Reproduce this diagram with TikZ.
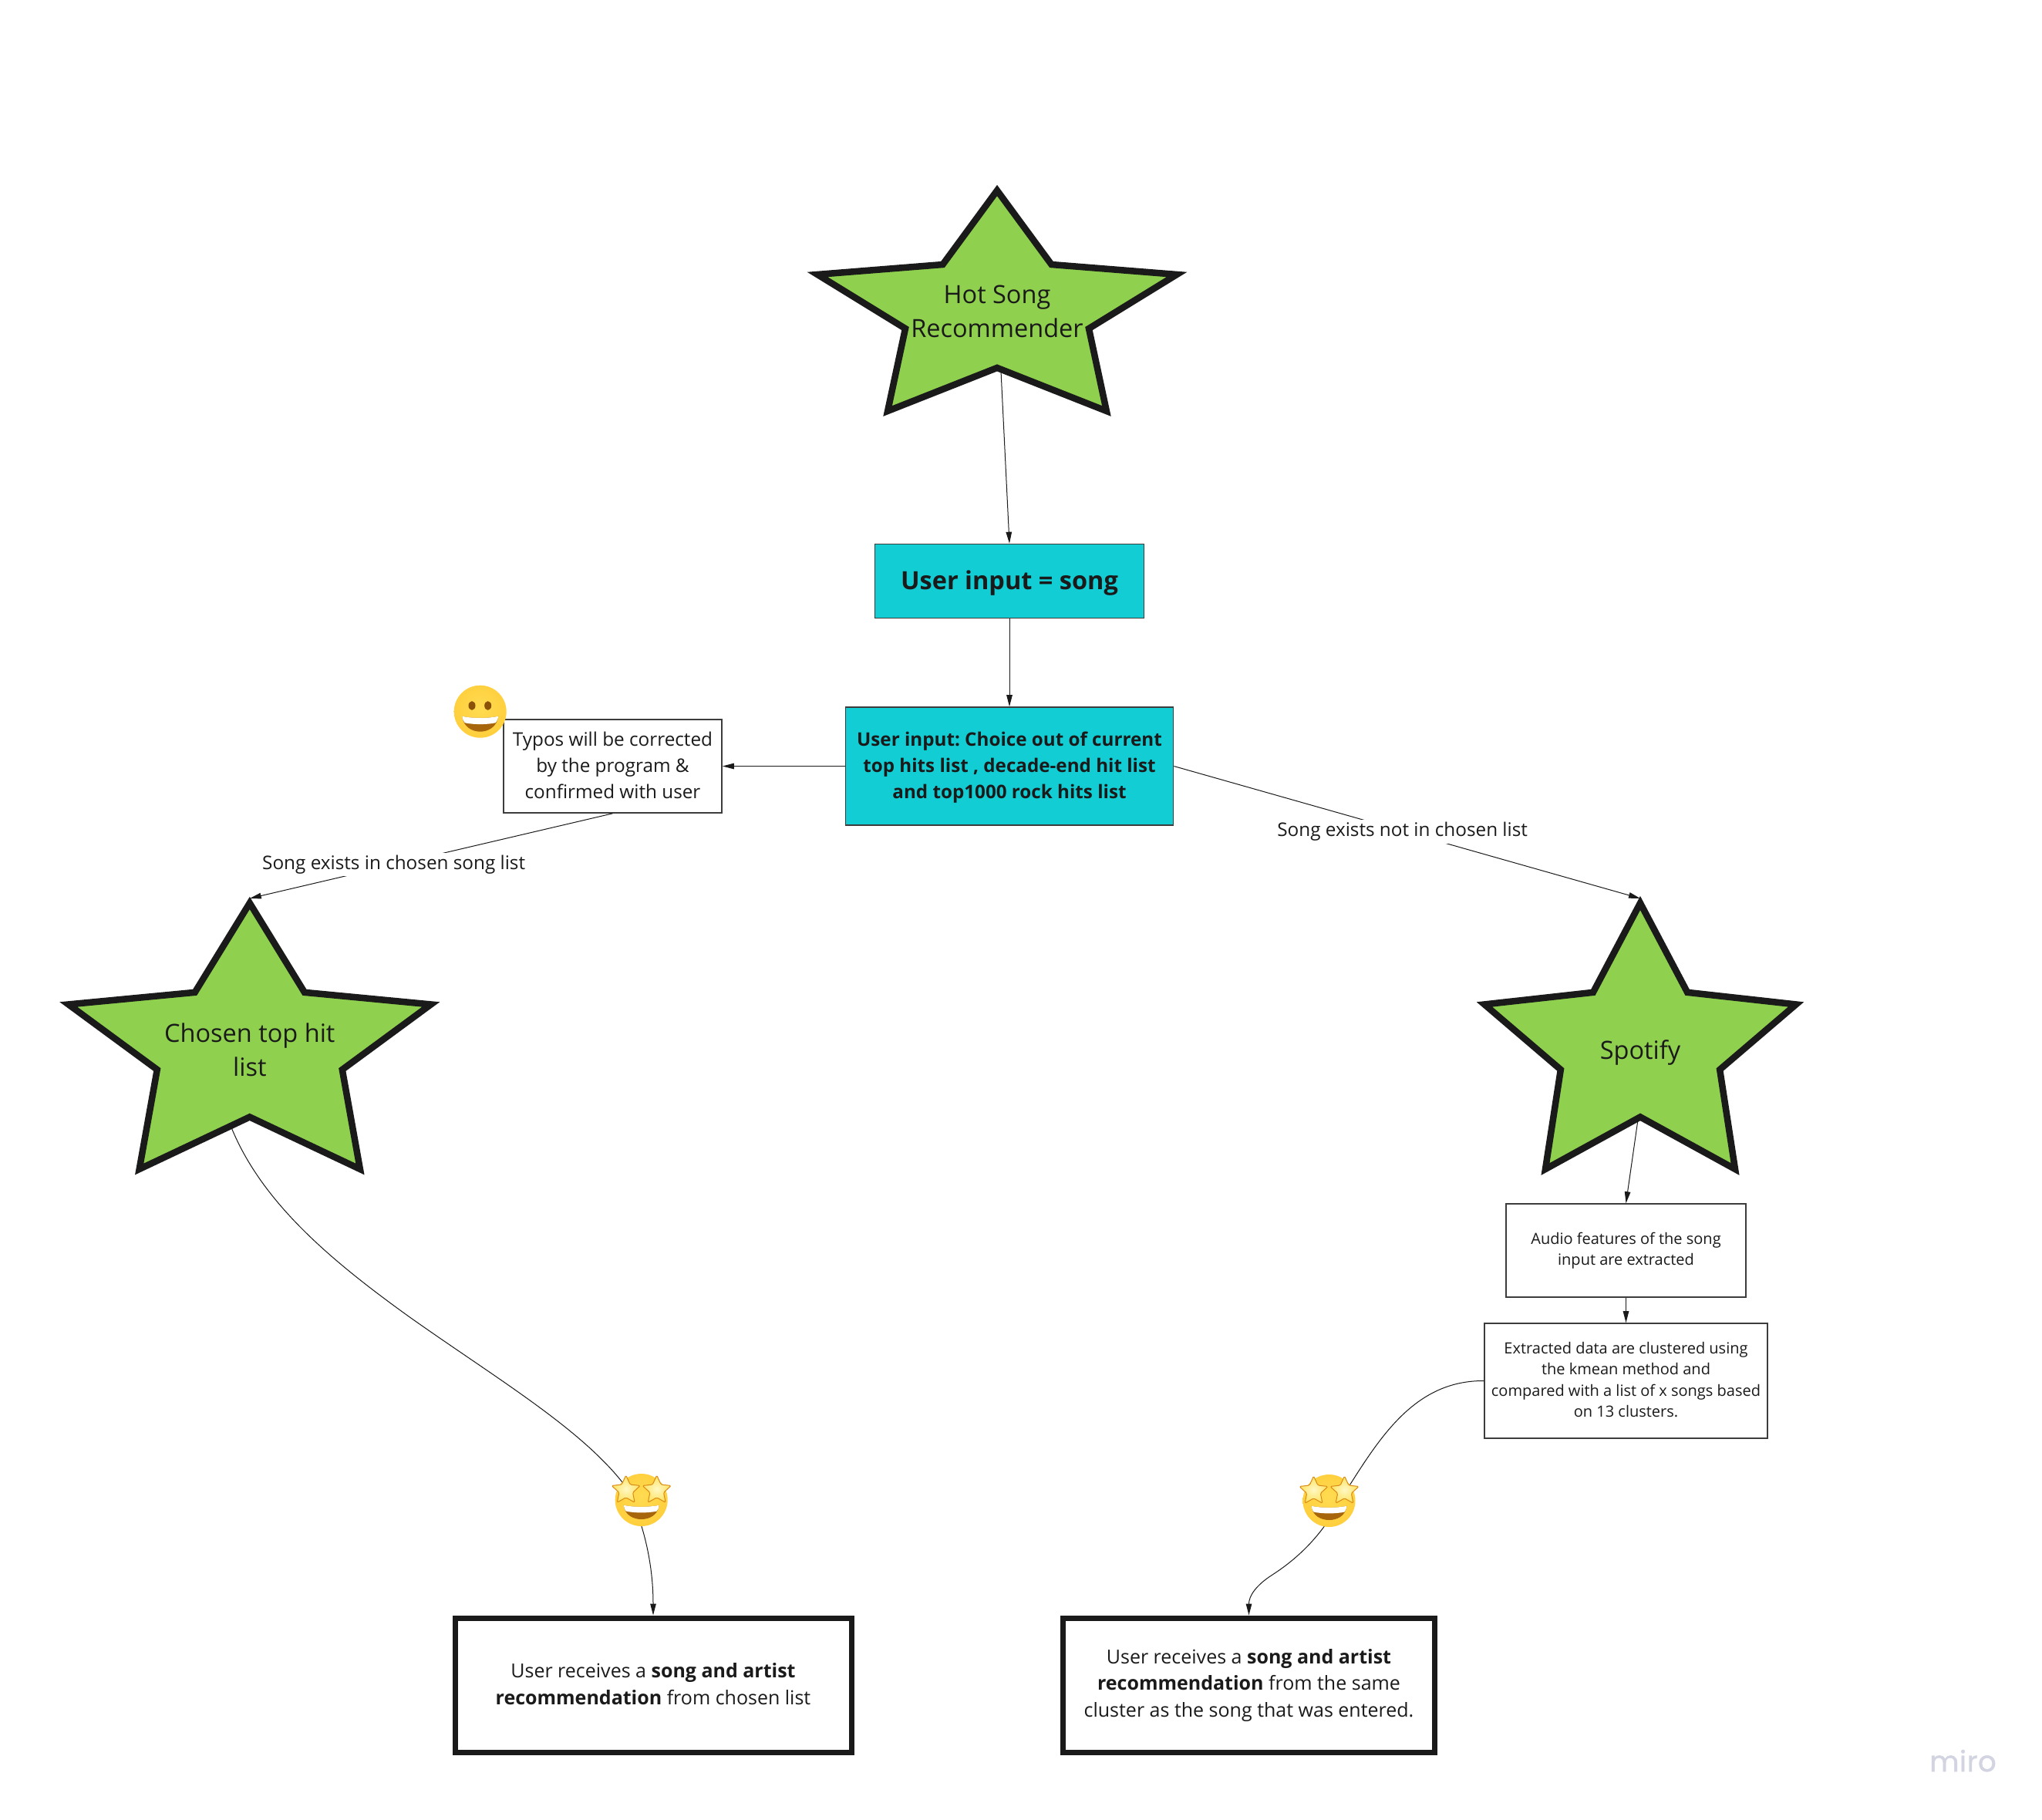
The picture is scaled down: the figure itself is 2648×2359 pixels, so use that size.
\documentclass[tikz,border=0pt]{standalone}
\usepackage{fontspec}
\setmainfont{Open Sans}
\newfontfamily\mirofont[FakeBold=1.2,LetterSpace=1.5]{Poppins}
\usetikzlibrary{arrows.meta,shapes.geometric}
\definecolor{ink}{HTML}{1A1A1A}
\definecolor{stargreen}{HTML}{8FD14F}
\definecolor{teal}{HTML}{12CDD4}
\definecolor{miroc}{HTML}{D3D4E2}
\definecolor{mouthc}{HTML}{A8660C}
\definecolor{eyec}{HTML}{8A5208}
\definecolor{starin}{HTML}{FFF8C4}
\definecolor{starout}{HTML}{FFE25E}
\definecolor{starrim}{HTML}{D98A14}
\pgfdeclareradialshading{facefill}{\pgfpoint{0bp}{4bp}}{
  rgb(0bp)=(1,0.86,0.32);
  rgb(32bp)=(1,0.80,0.22);
  rgb(46bp)=(0.97,0.67,0.14);
  rgb(50bp)=(0.93,0.58,0.10)}
\tikzset{
  x=1pt,y=-1pt,
  hitstar/.style={draw=ink,fill=stargreen,line width=8.5pt,miter limit=10,line join=miter},
  startext/.style={inner sep=0pt,align=center,text=ink,font=\fontsize{32.5}{44}\selectfont},
  boxbase/.style={rectangle,inner sep=0pt,align=center,text=ink,draw=ink!85},
  inputbox/.style={boxbase,fill=teal,line width=1.6pt},
  notebox/.style={boxbase,fill=white,line width=1.6pt,font=\fontsize{24.3}{34}\selectfont},
  smallbox/.style={boxbase,fill=white,line width=1.6pt,font=\fontsize{20}{27.3}\selectfont},
  resultbox/.style={boxbase,fill=white,line width=7pt,draw=ink,font=\fontsize{25}{34.5}\selectfont},
  edgelabel/.style={fill=white,inner sep=3pt,text=ink,font=\fontsize{24.3}{30}\selectfont},
  conn/.style={draw=ink,line width=1pt,-{Triangle[length=15pt,width=7.5pt]}},
  eyestar/.style={star,star points=5,star point ratio=2.1,minimum size=39pt,inner sep=0pt,rounded corners=1.5pt,draw=starrim,line width=1pt,inner color=starin,outer color=starout},
  grin/.pic={
    \shade[shading=facefill] (0,0) circle[radius=34];
    \fill[eyec] (-10.7,-7.7) ellipse[x radius=4.5,y radius=5.8];
    \fill[eyec] (10,-7.7) ellipse[x radius=4.5,y radius=5.8];
    \path[fill=mouthc] (-23.5,6) .. controls (-12,9) and (12,9) .. (23.5,6) .. controls (22,20) and (10,26) .. (0,26) .. controls (-10,26) and (-22,20) .. (-23.5,6) -- cycle;
    \path[fill=white] (-23.5,6) .. controls (-12,9) and (12,9) .. (23.5,6) .. controls (23,10) and (21.5,13) .. (20,14.5) .. controls (10,17) and (-10,17) .. (-20,14.5) .. controls (-21.5,13) and (-23,10) .. (-23.5,6) -- cycle;
  },
  struck/.pic={
    \shade[shading=facefill] (0,0) circle[radius=34];
    \path[fill=mouthc] (-23,6.7) .. controls (-12,9.5) and (12,9.5) .. (23,6.7) .. controls (21.5,20) and (10,25) .. (0,25) .. controls (-10,25) and (-21.5,20) .. (-23,6.7) -- cycle;
    \path[fill=white] (-23,6.7) .. controls (-12,9.5) and (12,9.5) .. (23,6.7) .. controls (22.6,10) and (21.5,13) .. (20,14.5) .. controls (10,17) and (-10,17) .. (-20,14.5) .. controls (-21.5,13) and (-22.6,10) .. (-23,6.7) -- cycle;
    \node[eyestar] at (-20,-12.5) {};
    \node[eyestar] at (20,-12.5) {};
  }
}
% struts that nudge a text block up or down inside its box
\newcommand{\deepstrut}[1]{\rule[-#1]{0pt}{0pt}}
\newcommand{\tallstrut}[1]{\rule{0pt}{#1}}
% #1 name, #2 centre x, #3 top y, #4 half width, #5 height, #6 text y, #7 text
\newcommand{\hotstar}[7]{%
  \draw[hitstar]
    ({#2},{#3})
    -- ({#2+0.3026*#4},{#3+0.3357*#5})
    -- ({#2+#4},{#3+0.381*#5})
    -- ({#2+0.5107*#4},{#3+0.626*#5})
    -- ({#2+0.609*#4},{#3+#5})
    -- ({#2},{#3+0.804*#5})
    -- ({#2-0.609*#4},{#3+#5})
    -- ({#2-0.5107*#4},{#3+0.626*#5})
    -- ({#2-#4},{#3+0.381*#5})
    -- ({#2-0.3026*#4},{#3+0.3357*#5})
    -- cycle;
  \node[startext] (#1) at (#2,#6) {#7};
  \coordinate (#1-top) at (#2,{#3-6});
}
\begin{document}
\frenchspacing
\begin{tikzpicture}
\useasboundingbox (0,0) rectangle (2648,2359);
\fill[white] (0,0) rectangle (2648,2359);

% stars
\hotstar{hot}{1293}{247}{233}{286}{404}{Hot Song\\Recommender}
\hotstar{chosen}{323.8}{1171}{235}{345}{1361}{Chosen top hit\\list}
\hotstar{spotify}{2127}{1171}{202}{345}{1365}{Spotify}
\coordinate (hotfoot) at (1298,481);
\coordinate (chosenfoot) at (300,1462);
\coordinate (spotifyfoot) at (2124,1452);

% boxes
\node[inputbox,minimum width=349pt,minimum height=96pt,font=\bfseries\fontsize{32.5}{44}\selectfont] (song) at (1309,753.5) {\tallstrut{29pt}User input = song};
\node[inputbox,minimum width=425pt,minimum height=153pt,font=\bfseries\fontsize{24.2}{34}\selectfont] (choice) at (1309,993.5) {\tallstrut{22.5pt}User input: Choice out of current\\top hits list , decade-end hit list\\and top1000 rock hits list};
\node[notebox,minimum width=283pt,minimum height=121pt] (typos) at (794.5,993.5) {Typos will be corrected\\by the program \&\\confirmed with user\deepstrut{3.4pt}};
\node[smallbox,minimum width=311pt,minimum height=121pt] (audio) at (2108.5,1621.5) {Audio features of the song\\input are extracted};
\node[smallbox,minimum width=367pt,minimum height=149pt] (cluster) at (2108.5,1790.5) {Extracted data are clustered using\\the kmean method and\\compared with a list of x songs based\\on 13 clusters.\deepstrut{3pt}};
\node[resultbox,minimum width=514pt,minimum height=174pt] (recA) at (847,2185) {User receives a \textbf{song and artist}\\\textbf{recommendation} from chosen list\deepstrut{3.4pt}};
\node[resultbox,minimum width=482pt,minimum height=174pt] (recB) at (1619.5,2185) {User receives a \textbf{song and artist}\\\textbf{recommendation} from the same\\cluster as the song that was entered.};

% connectors
\draw[conn] (hotfoot) -- (song.north);
\draw[conn] (song.south) -- (choice.north);
\draw[conn] (choice.west) -- (typos.east);
\draw[conn] (typos.south) -- node[edgelabel,pos=0.603] (lblin) {Song exists in chosen song list} (chosen-top);
\draw[conn] (choice.east) -- node[edgelabel,pos=0.49,yshift=-1pt] (lblout) {Song exists not in chosen list} (spotify-top);
\draw[conn] (spotifyfoot) -- (audio.north);
\draw[conn] (audio.south) -- (cluster.north);
\draw[conn] (chosenfoot) .. controls (340,1560) and (430,1635) .. (530,1707)
  .. controls (640,1785) and (750,1850) .. (807,1922)
  .. controls (825,1950) and (847,2010) .. (recA.north);
\draw[conn] (cluster.west) .. controls (1840,1790) and (1795,1855) .. (1752,1923)
  .. controls (1735,1950) and (1715,2000) .. (1650,2042)
  .. controls (1628,2056) and (1619.5,2070) .. (recB.north);

% emoji
\pic (smile) at (622.7,922.7) {grin};
\pic (eyesA) at (831.7,1945) {struck};
\pic (eyesB) at (1723.5,1946) {struck};

% watermark
\node[inner sep=0pt,anchor=base,text=miroc,font=\mirofont\fontsize{37}{37}\selectfont] (logo) at (2545.5,2297) {miro};
\end{tikzpicture}
\end{document}
